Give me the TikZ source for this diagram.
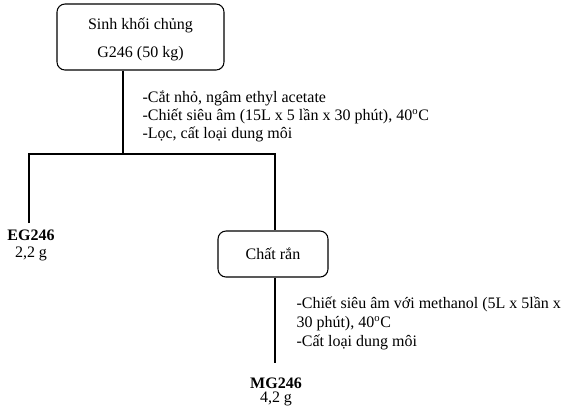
\documentclass[tikz,border=0pt]{standalone}
\usepackage{fontspec}
\setmainfont{Liberation Serif}
\begin{document}
\begin{tikzpicture}[x=0.75pt,y=-0.75pt,line width=0.8pt,
  box/.style={draw,rounded corners=6pt,inner sep=0pt,align=center,
    font=\fontsize{12}{13.5}\selectfont},
  note/.style={anchor=base west,align=left,inner sep=0pt,
    font=\fontsize{12}{13.5}\selectfont},
  yield/.style={anchor=north,align=center,inner sep=0pt}]
\useasboundingbox (0,0) rectangle (570,412);

% process boxes
\node[box,minimum width=125.25pt,minimum height=49.5pt] (biomass) at (140.5,37)
  {\rule{0pt}{12pt}Sinh khối chủng\\[7.5pt]G246 (50 kg)};
\node[box,minimum width=82.5pt,minimum height=34.5pt] (solid) at (273,254) {Chất rắn};

% products
\node[yield,font=\fontsize{12}{12.8}\selectfont] (eg) at (31,229) {\textbf{EG246}\\2,2 g};
\node[yield,font=\fontsize{12}{10.5}\selectfont] (mg) at (276,377) {\textbf{MG246}\\4,2 g};

% branch points
\coordinate (split) at (123,154);
\coordinate (splitL) at (29,154);
\coordinate (splitR) at (275,154);

% connectors
\draw ([yshift=4.5pt]splitL |- eg.north) -- (splitL) -- (splitR) -- (splitR |- solid.north);
\draw (biomass.south -| split) -- (split);
\draw (solid.south -| splitR) -- ([yshift=10.5pt]splitR |- mg.north);

% step descriptions (anchored at the baseline of the last line)
\node[note] (step1) at (142,138)
  {-Cắt nhỏ, ngâm ethyl acetate\\
   -Chiết siêu âm (15L x 5 lần x 30 phút), 40\textsuperscript{o}C\\
   -Lọc, cất loại dung môi};
\node[note,font=\fontsize{12}{13.9}\selectfont] (step2) at (296,346)
  {-Chiết siêu âm với methanol (5L x 5lần x\\
   30 phút), 40\textsuperscript{o}C\\
   -Cất loại dung môi};
\end{tikzpicture}
\end{document}
